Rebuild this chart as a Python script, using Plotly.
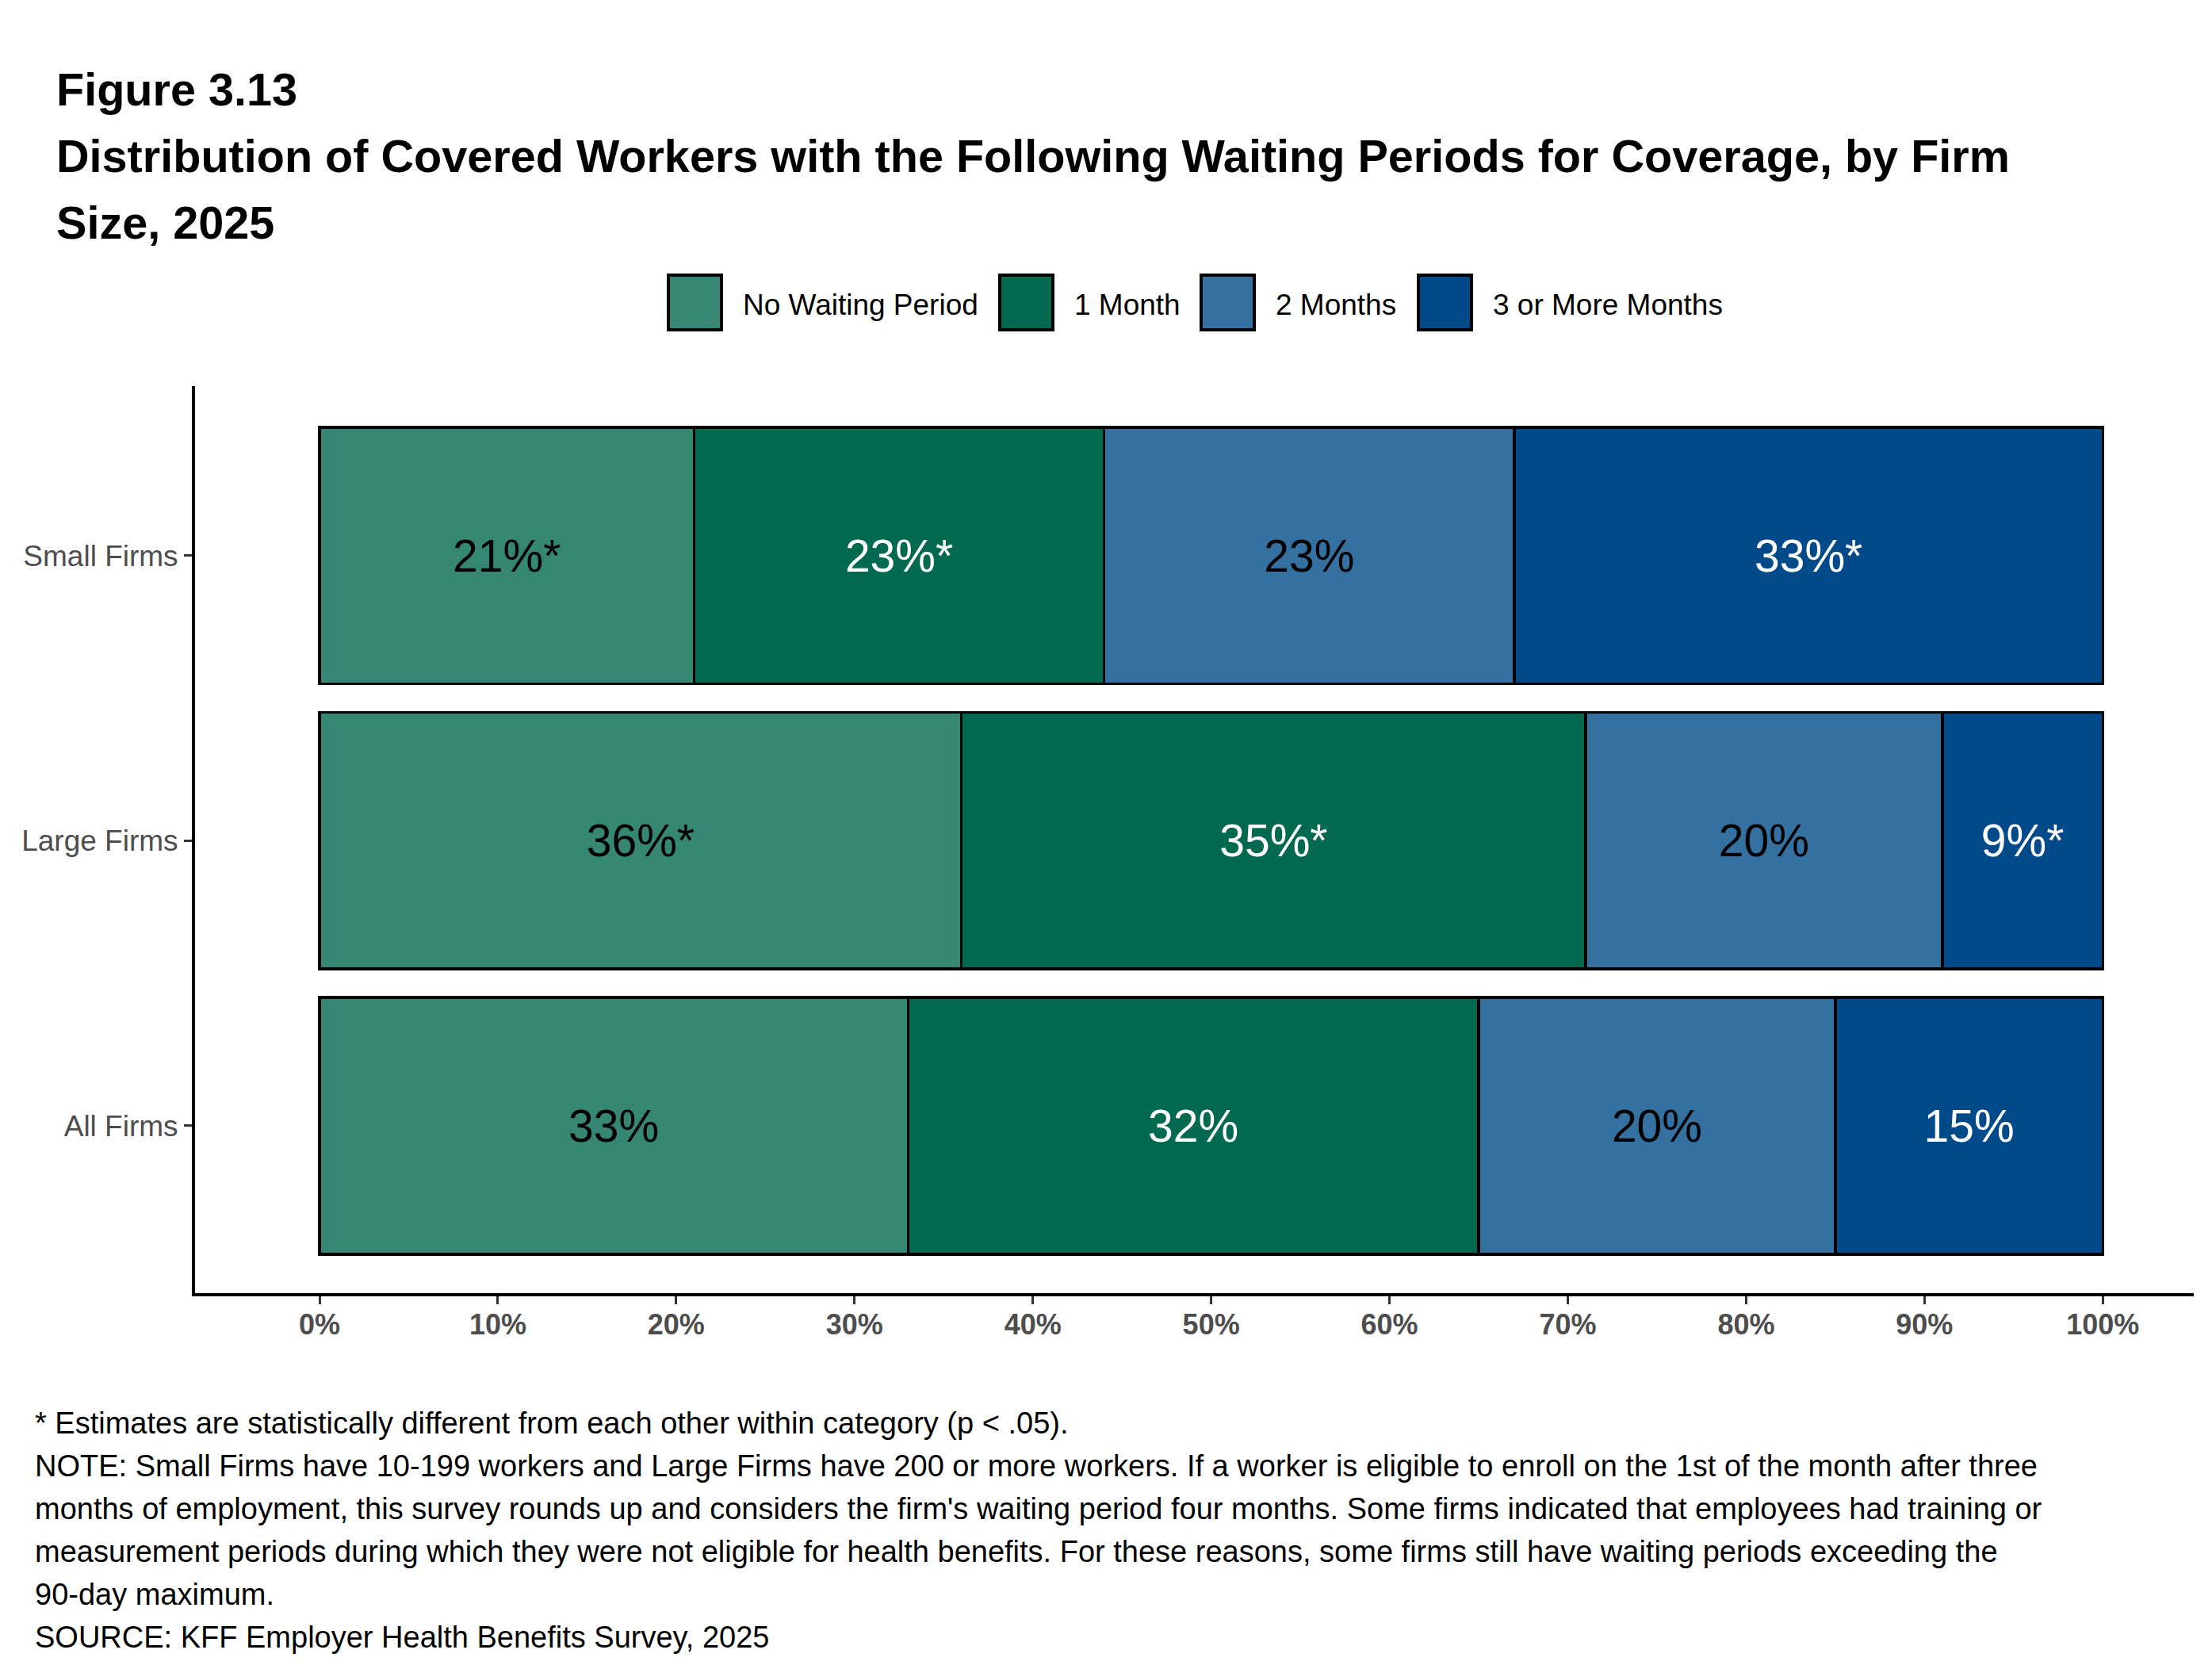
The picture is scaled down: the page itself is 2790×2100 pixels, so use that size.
import plotly.graph_objects as go

# Data
firms = ['All Firms', 'Large Firms', 'Small Firms']
periods = ['No Waiting Period', '1 Month', '2 Months', '3 or More Months']
no_wait = [33, 36, 21]
one_month = [32, 35, 23]
two_months = [20, 20, 23]
three_plus = [15, 9, 33]
# '*' = statistically different from each other within category
no_wait_sig = [False, True, True]
one_month_sig = [False, True, True]
two_months_sig = [False, False, False]
three_plus_sig = [False, True, True]

x_ticks = [0, 10, 20, 30, 40, 50, 60, 70, 80, 90, 100]
x_tick_labels = ['0%', '10%', '20%', '30%', '40%', '50%', '60%', '70%', '80%', '90%', '100%']

title_lines = ['Figure 3.13',
               'Distribution of Covered Workers with the Following Waiting Periods for Coverage, by Firm',
               'Size, 2025']
notes = [
    '* Estimates are statistically different from each other within category (p < .05).',
    'NOTE: Small Firms have 10-199 workers and Large Firms have 200 or more workers. If a worker is eligible to enroll on the 1st of the month after three',
    "months of employment, this survey rounds up and considers the firm's waiting period four months. Some firms indicated that employees had training or",
    'measurement periods during which they were not eligible for health benefits. For these reasons, some firms still have waiting periods exceeding the',
    '90-day maximum.',
    'SOURCE: KFF Employer Health Benefits Survey, 2025',
]

colors = ['#358774', '#006950', '#3470A0', '#004A89']
label_colors = ['black', 'white', 'black', 'white']
FONT = 'Liberation Sans, Arial, sans-serif'

# the page body has an 8px margin, so everything is laid out 8px up/left
OFF = 8
W, H = 2790 - 2 * OFF, 2100 - 2 * OFF
# plot area in page pixels
L, R, T, B = 246 - OFF, 2767 - OFF, 487 - OFF, 1631 - OFF


def px(x):
    # page pixel -> paper x
    return (x - OFF - L) / (R - L)


def py(y):
    # page pixel -> paper y
    return (B - (y - OFF)) / (B - T)


series = [(no_wait, no_wait_sig), (one_month, one_month_sig),
          (two_months, two_months_sig), (three_plus, three_plus_sig)]

fig = go.Figure()
for i, (vals, sig) in enumerate(series):
    labels = [f"{v}%{'*' if s else ''}" for v, s in zip(vals, sig)]
    fig.add_trace(go.Bar(
        y=firms, x=vals, orientation='h', name=periods[i],
        marker=dict(color=colors[i], line=dict(color='black', width=3.5)),
        text=labels, textposition='inside', insidetextanchor='middle',
        textangle=0,
        textfont=dict(family=FONT, size=57, color=label_colors[i]),
        showlegend=False, hoverinfo='skip'))

fig.update_layout(
    width=W, height=H, autosize=False,
    barmode='stack', bargap=0.1,
    plot_bgcolor='white', paper_bgcolor='white',
    margin=dict(l=L, r=W - R, t=T, b=H - B, pad=0),
    font=dict(family=FONT),
    uniformtext=dict(mode=False),
)

fig.update_xaxes(
    range=[-6.98, 105.1], tickvals=x_ticks, ticktext=x_tick_labels,
    showgrid=False, zeroline=False,
    showline=True, linecolor='black', linewidth=4,
    ticks='outside', ticklen=10, tickwidth=3, tickcolor='#333333',
    ticklabelstandoff=-5,
    tickfont=dict(family=FONT, size=36, color='#4d4d4d', weight='bold'),
)
fig.update_yaxes(
    range=[-0.587, 2.595], categoryorder='array', categoryarray=firms,
    showgrid=False, zeroline=False,
    showline=True, linecolor='black', linewidth=4,
    ticks='outside', ticklen=10, tickwidth=3, tickcolor='#333333',
    tickfont=dict(family=FONT, size=37, color='#4d4d4d'),
)

annotations = []
shapes = []

# title
for k, line in enumerate(title_lines):
    annotations.append(dict(
        text=f'<b>{line}</b>', x=px(69), y=py(113 + 84 * k),
        xref='paper', yref='paper', xanchor='left', yanchor='middle',
        showarrow=False, font=dict(family=FONT, size=57.6, color='black')))

# legend drawn by hand to get the large keys
legend_x = [843, 1261, 1515, 1789]
for k, name in enumerate(periods):
    shapes.append(dict(
        type='rect', xref='paper', yref='paper',
        x0=px(legend_x[k]), x1=px(legend_x[k] + 67), y0=py(416), y1=py(347),
        fillcolor=colors[k], line=dict(color='black', width=4)))
    annotations.append(dict(
        text=name, x=px(legend_x[k] + 92), y=py(384),
        xref='paper', yref='paper', xanchor='left', yanchor='middle',
        showarrow=False, font=dict(family=FONT, size=37, color='black')))

# footnotes
for k, line in enumerate(notes):
    annotations.append(dict(
        text=line, x=px(42), y=py(1795 + 54 * k),
        xref='paper', yref='paper', xanchor='left', yanchor='middle',
        showarrow=False, font=dict(family=FONT, size=38, color='black')))

fig.update_layout(annotations=annotations, shapes=shapes)

fig.write_html('out.html')
